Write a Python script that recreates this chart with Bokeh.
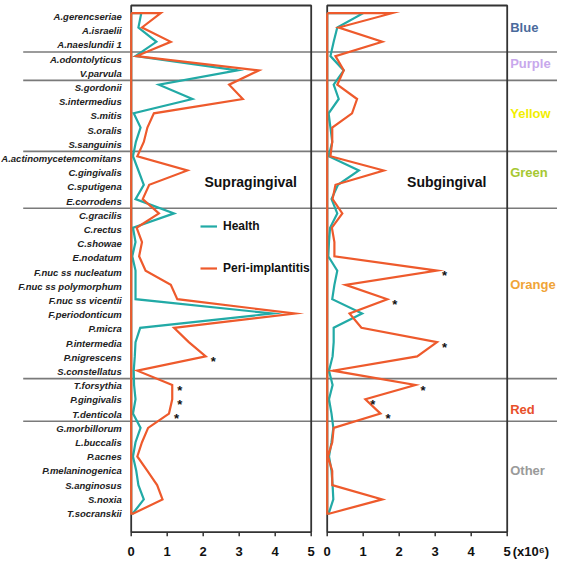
from bokeh.plotting import figure
from bokeh.models import Range1d, FixedTicker, Legend, LegendItem, Label
from bokeh.core.properties import value
from bokeh.embed import file_html
from bokeh.resources import INLINE

species = ["A.gerencseriae", "A.israelii", "A.naeslundii 1", "A.odontolyticus", "V.parvula",
           "S.gordonii", "S.intermedius", "S.mitis", "S.oralis", "S.sanguinis",
           "A.actinomycetemcomitans", "C.gingivalis", "C.sputigena", "E.corrodens",
           "C.gracilis", "C.rectus", "C.showae", "E.nodatum", "F.nuc ss nucleatum",
           "F.nuc ss polymorphum", "F.nuc ss vicentii", "F.periodonticum", "P.micra",
           "P.intermedia", "P.nigrescens", "S.constellatus", "T.forsythia", "P.gingivalis",
           "T.denticola", "G.morbillorum", "L.buccalis", "P.acnes", "P.melaninogenica",
           "S.anginosus", "S.noxia", "T.socranskii"]

groups = ["Blue", "Purple", "Yellow", "Green", "Orange", "Red", "Other"]
group_sizes = [3, 2, 5, 4, 12, 3, 7]
group_colors = ["#4a6a9c", "#c8a8ec", "#f2ee00", "#a6c832", "#f0a438", "#e8502a", "#9a9a9a"]

supra_health = [0.28, 0.2, 0.7, 0.12, 2.95, 0.77, 1.7, 0.07, 0.26, 0.13,
                0.05, 0.2, 0.35, 0.12, 1.19, 0.05, 0.12, 0.03, 0.12, 0.12,
                0.12, 3.93, 0.25, 0.12, 0.1, 0.07, 0.08, 0.12, 0.05, 0.26,
                0.12, 0.05, 0.14, 0.2, 0.35, 0.04]
supra_peri = [0.82, 0.3, 1.1, 0.15, 3.55, 2.72, 3.1, 0.63, 0.45, 0.35,
              0.17, 1.56, 0.5, 0.32, 0.77, 0.15, 0.3, 0.22, 0.4, 1.1,
              1.28, 4.55, 1.19, 1.6, 2.07, 0.17, 1.14, 1.14, 1.05, 0.47,
              0.3, 0.17, 0.45, 0.72, 0.87, 0.05]
sub_health = [1.0, 0.28, 0.18, 0.09, 0.46, 0.18, 0.32, 0.04, 0.09, 0.14,
              0.04, 0.88, 0.3, 0.12, 0.28, 0.08, 0.05, 0.03, 0.28, 0.2,
              0.14, 0.97, 0.18, 0.18, 0.15, 0.05, 0.15, 0.05, 0.12, 0.17,
              0.12, 0.05, 0.12, 0.15, 0.17, 0.04]
sub_peri = [1.8, 0.32, 1.53, 0.23, 0.46, 0.28, 0.83, 0.69, 0.14, 0.14,
            0.09, 1.57, 0.23, 0.15, 0.42, 0.13, 0.2, 0.2, 3.05, 0.51,
            1.67, 0.62, 0.95, 3.05, 2.5, 0.16, 2.45, 1.06, 1.48, 0.18,
            0.14, 0.02, 0.14, 0.14, 1.53, 0.05]

sig_supra = ["P.nigrescens", "T.forsythia", "P.gingivalis", "T.denticola"]
sig_sub = ["F.nuc ss nucleatum", "F.nuc ss vicentii", "P.intermedia",
           "T.forsythia", "P.gingivalis", "T.denticola"]

x_ticks = [0, 1, 2, 3, 4, 5]
panel_titles = ["Supragingival", "Subgingival"]
series_names = ["Health", "Peri-implantitis"]
unit_label = "(x10\u2076)"

TEAL = "#22aaa6"
RED = "#ee5a2c"
FONT = "Liberation Sans"

# geometry (pixels)
FW, FH = 557, 536
PX = 36.0          # px per unit
X0 = 130.7         # px of left panel zero
OFF = 196.0 / PX   # right panel offset in units
ROW = 14.3         # px per species row
Y0 = 12.7          # px of first species row
XMAX = 5

xr = Range1d(-X0 / PX, (FW - X0) / PX)
yr = Range1d((FH - Y0) / ROW, -Y0 / ROW)

p = figure(frame_width=FW, frame_height=FH, x_range=xr, y_range=yr,
           output_backend="svg", toolbar_location=None, min_border=0,
           y_axis_location=None)
p.xgrid.visible = False
p.ygrid.visible = False
p.outline_line_color = None
p.background_fill_color = "white"
p.border_fill_color = "white"

n = len(species)
ys = list(range(n))


def label_shift(i):
    # species labels sit slightly below the plotted vertices (px)
    return 3.3 - 0.1 * i


# group separators (full width)
bounds = []
acc = 0
for s in group_sizes[:-1]:
    acc += s
    b = acc - 0.5
    bounds.append(b + label_shift(b) / ROW)
x_sep0 = (22.7 - X0) / PX
p.segment(x0=[x_sep0] * len(bounds), x1=[xr.end] * len(bounds), y0=bounds, y1=bounds,
          line_color="#7a7a7a", line_width=1.6)

# panel boxes
box_top = (5 - Y0) / ROW
box_bot = (531.7 - Y0) / ROW
p.quad(left=[0, OFF], right=[XMAX, OFF + XMAX], top=[box_top] * 2, bottom=[box_bot] * 2,
       fill_color=None, line_color="#333333", line_width=1.8)

# tick marks (drawn under each panel)
ticks = [float(t) for t in x_ticks] + [OFF + t for t in x_ticks]
p.segment(x0=ticks, x1=ticks, y0=[box_bot] * len(ticks), y1=[yr.start] * len(ticks),
          line_color="#333333", line_width=1.5)


def closed(vals, off):
    xs = [off] + [v + off for v in vals] + [off, off]
    yv = [ys[0]] + ys + [ys[-1], ys[0]]
    return xs, yv


renderers = {}
for name, vals, off, col in [("sh", supra_health, 0, TEAL), ("bh", sub_health, OFF, TEAL),
                             ("sp", supra_peri, 0, RED), ("bp", sub_peri, OFF, RED)]:
    xs, yv = closed(vals, off)
    renderers[name] = p.line(xs, yv, line_color=col, line_width=2.2, line_join="miter")

# asterisks
for sig, vals, off in [(sig_supra, supra_peri, 0), (sig_sub, sub_peri, OFF)]:
    axx = [vals[species.index(s)] + off for s in sig]
    ayy = [species.index(s) for s in sig]
    p.text(x=axx, y=ayy, text=["*"] * len(axx), x_offset=5, y_offset=5,
           text_font=value(FONT), text_font_style="bold",
           text_font_size="13px", text_color="#111111",
           text_align="left", text_baseline="middle")

# species labels
p.text(x=[0] * n, y=ys, text=species, x_offset=-9.5,
       y_offset=[label_shift(i) for i in ys],
       text_font=value(FONT), text_font_style="bold italic", text_font_size="9.5px",
       text_color="#222222", text_align="right", text_baseline="middle")

# group labels
label_nudge = {"Green": -0.35, "Orange": -0.5, "Red": 0.7}
centers = []
acc = 0
for g, s in zip(groups, group_sizes):
    centers.append(acc + (s - 1) / 2 + label_nudge.get(g, 0.0))
    acc += s
p.text(x=[OFF + XMAX] * len(groups), y=centers, text=groups, x_offset=3,
       text_font=value(FONT), text_font_style="bold", text_font_size="13px",
       text_color=group_colors, text_align="left", text_baseline="middle")

# panel titles
for t, off in zip(panel_titles, [0, OFF]):
    p.add_layout(Label(x=off + 3.32, y=11.82, text=t, text_align="center",
                       text_baseline="middle", text_font=FONT,
                       text_font_style="bold", text_font_size="14px",
                       text_color="#111111"))

# legend
legend = Legend(items=[LegendItem(label=series_names[0], renderers=[renderers["sh"]]),
                       LegendItem(label=series_names[1], renderers=[renderers["sp"]])],
                location=(200, 258), orientation="vertical",
                border_line_color=None, background_fill_alpha=0,
                padding=0, margin=0, spacing=22, glyph_width=17, glyph_height=20,
                label_height=20, label_standoff=6, label_text_font=FONT,
                label_text_font_style="bold", label_text_font_size="12px",
                label_text_color="#111111")
p.add_layout(legend)

# x axis: labels only (tick marks drawn above)
unit_pos = OFF + 5.66
all_ticks = ticks + [unit_pos]
xax = p.xaxis[0]
xax.ticker = FixedTicker(ticks=all_ticks)
overrides = {tk: str(t) for tk, t in zip(ticks, x_ticks + x_ticks)}
overrides[unit_pos] = unit_label
xax.major_label_overrides = overrides
xax.axis_line_color = None
xax.minor_tick_line_color = None
xax.major_tick_line_color = None
xax.major_tick_out = 0
xax.major_tick_in = 0
xax.major_label_standoff = 7
xax.major_label_text_font = FONT
xax.major_label_text_font_style = "bold"
xax.major_label_text_font_size = "13px"
xax.major_label_text_color = "#111111"

open("out.html", "w").write(file_html(p, INLINE))
